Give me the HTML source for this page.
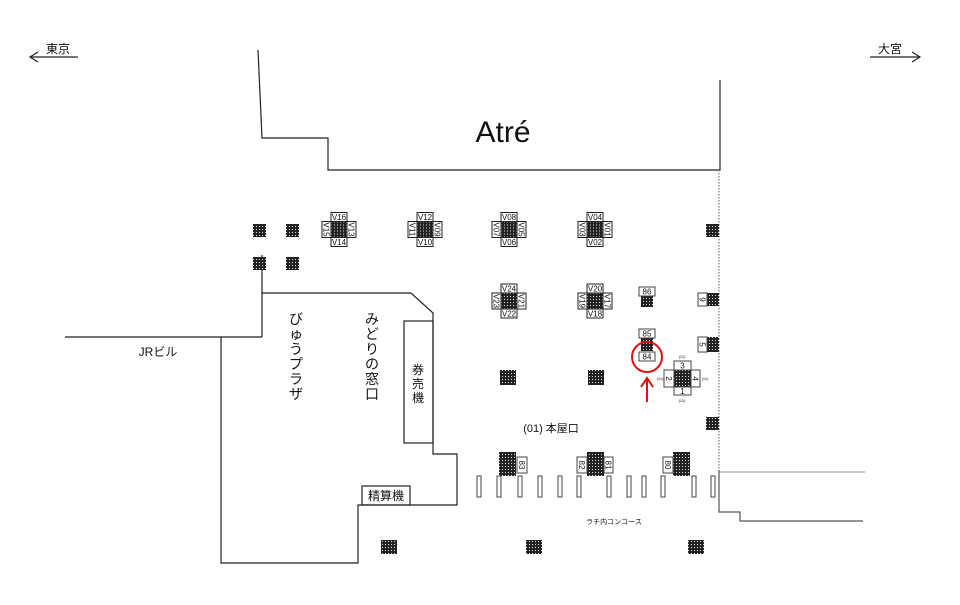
<!DOCTYPE html>
<html><head><meta charset="utf-8"><style>
html,body{margin:0;padding:0;background:#fff;}
svg{display:block;}
text{font-family:"Liberation Sans","Noto Sans CJK JP",sans-serif;fill:#111;}
</style></head><body>
<svg width="960" height="605" viewBox="0 0 960 605" xmlns="http://www.w3.org/2000/svg">
<defs>
<pattern id="h" width="3" height="3" patternUnits="userSpaceOnUse">
<rect width="3" height="3" fill="#222"/><rect x="1" y="1" width="1" height="1" fill="#ddd"/>
</pattern>
</defs>
<g stroke="#222" fill="none" stroke-width="1.2">
<line x1="30" y1="57" x2="78" y2="57"/><polyline points="38,52 30,57 38,62"/>
<line x1="870" y1="57" x2="920" y2="57"/><polyline points="912,52 920,57 912,62"/>
<polyline points="258,50 262,138 328,138 328,170 720,170 720,80"/>
<line x1="719" y1="170" x2="719" y2="470" stroke-dasharray="1.5,1.5" stroke="#777"/>
<line x1="719" y1="472" x2="865" y2="472" stroke="#aaa"/>
<polyline points="719,470 719,512 740,512 740,521 863,521" stroke="#555"/>
<line x1="65" y1="337" x2="262" y2="337"/>
<polyline points="262,255 262,337"/>
<polyline points="221,337 221,563 358,563 358,505 457,505 457,454 433,454 433,313 411,293 262,293"/>
<rect x="404" y="321" width="29" height="122"/>
<rect x="362" y="486" width="48" height="19"/>
</g>
<g font-size="10" text-anchor="middle">
<text x="58" y="53" font-size="12">東京</text>
<text x="890" y="53" font-size="12">大宮</text>
</g>
<text x="503" y="142" font-size="30" text-anchor="middle">Atré</text>
<text x="158" y="356" font-size="12" text-anchor="middle">JRビル</text>
<g font-size="14" text-anchor="middle">
<text x="296" y="324">び</text><text x="296" y="339">ゅ</text><text x="296" y="354">う</text><text x="296" y="369">プ</text><text x="296" y="384">ラ</text><text x="296" y="399">ザ</text>
<text x="372" y="324">み</text><text x="372" y="339">ど</text><text x="372" y="354">り</text><text x="372" y="369">の</text><text x="372" y="384">窓</text><text x="372" y="399">口</text>
</g>
<g font-size="12" text-anchor="middle">
<text x="418" y="374">券</text><text x="418" y="388">売</text><text x="418" y="402">機</text>
<text x="386" y="500">精算機</text>
<text x="551" y="432" font-size="11">(01) 本屋口</text>
<text x="614" y="524" font-size="7">ラチ内コンコース</text>
</g>
<g fill="url(#h)">
<rect x="253" y="224" width="13" height="13"/><rect x="286" y="224" width="13" height="13"/>
<rect x="253" y="257" width="13" height="13"/><rect x="286" y="257" width="13" height="13"/>
<rect x="706" y="224" width="13" height="13"/><rect x="706" y="417" width="13" height="13"/>
<rect x="500" y="370" width="16" height="15"/><rect x="588" y="370" width="16" height="15"/>
<rect x="381" y="540" width="16" height="14"/><rect x="526" y="540" width="16" height="14"/><rect x="688" y="540" width="16" height="14"/>
<rect x="499" y="452" width="17" height="24"/><rect x="587" y="452" width="17" height="24"/><rect x="673" y="452" width="17" height="24"/>
<rect x="641" y="296" width="12" height="11"/><rect x="641" y="338" width="12" height="13"/>
<rect x="707" y="293" width="12" height="13"/><rect x="707" y="337" width="12" height="15"/>
</g>
<g font-size="8" text-anchor="middle">
<g transform="translate(339,229.5)">
<rect x="-8" y="-8" width="16" height="16" fill="url(#h)" stroke="#222"/>
<rect x="-8" y="-17" width="16" height="9" fill="#fff" stroke="#222"/><text y="-9.5">V16</text>
<rect x="-8" y="8" width="16" height="9" fill="#fff" stroke="#222"/><text y="15.5">V14</text>
<rect x="-17" y="-8" width="9" height="16" fill="#fff" stroke="#222"/><text transform="translate(-12.5,0) rotate(90)" y="3">V15</text>
<rect x="8" y="-8" width="9" height="16" fill="#fff" stroke="#222"/><text transform="translate(12.5,0) rotate(90)" y="3">V13</text>
</g>
<g transform="translate(425,229.5)">
<rect x="-8" y="-8" width="16" height="16" fill="url(#h)" stroke="#222"/>
<rect x="-8" y="-17" width="16" height="9" fill="#fff" stroke="#222"/><text y="-9.5">V12</text>
<rect x="-8" y="8" width="16" height="9" fill="#fff" stroke="#222"/><text y="15.5">V10</text>
<rect x="-17" y="-8" width="9" height="16" fill="#fff" stroke="#222"/><text transform="translate(-12.5,0) rotate(90)" y="3">V11</text>
<rect x="8" y="-8" width="9" height="16" fill="#fff" stroke="#222"/><text transform="translate(12.5,0) rotate(90)" y="3">V09</text>
</g>
<g transform="translate(509,229.5)">
<rect x="-8" y="-8" width="16" height="16" fill="url(#h)" stroke="#222"/>
<rect x="-8" y="-17" width="16" height="9" fill="#fff" stroke="#222"/><text y="-9.5">V08</text>
<rect x="-8" y="8" width="16" height="9" fill="#fff" stroke="#222"/><text y="15.5">V06</text>
<rect x="-17" y="-8" width="9" height="16" fill="#fff" stroke="#222"/><text transform="translate(-12.5,0) rotate(90)" y="3">V07</text>
<rect x="8" y="-8" width="9" height="16" fill="#fff" stroke="#222"/><text transform="translate(12.5,0) rotate(90)" y="3">V05</text>
</g>
<g transform="translate(595,229.5)">
<rect x="-8" y="-8" width="16" height="16" fill="url(#h)" stroke="#222"/>
<rect x="-8" y="-17" width="16" height="9" fill="#fff" stroke="#222"/><text y="-9.5">V04</text>
<rect x="-8" y="8" width="16" height="9" fill="#fff" stroke="#222"/><text y="15.5">V02</text>
<rect x="-17" y="-8" width="9" height="16" fill="#fff" stroke="#222"/><text transform="translate(-12.5,0) rotate(90)" y="3">V03</text>
<rect x="8" y="-8" width="9" height="16" fill="#fff" stroke="#222"/><text transform="translate(12.5,0) rotate(90)" y="3">V01</text>
</g>
<g transform="translate(509,301)">
<rect x="-8" y="-8" width="16" height="16" fill="url(#h)" stroke="#222"/>
<rect x="-8" y="-17" width="16" height="9" fill="#fff" stroke="#222"/><text y="-9.5">V24</text>
<rect x="-8" y="8" width="16" height="9" fill="#fff" stroke="#222"/><text y="15.5">V22</text>
<rect x="-17" y="-8" width="9" height="16" fill="#fff" stroke="#222"/><text transform="translate(-12.5,0) rotate(90)" y="3">V23</text>
<rect x="8" y="-8" width="9" height="16" fill="#fff" stroke="#222"/><text transform="translate(12.5,0) rotate(90)" y="3">V21</text>
</g>
<g transform="translate(595,301)">
<rect x="-8" y="-8" width="16" height="16" fill="url(#h)" stroke="#222"/>
<rect x="-8" y="-17" width="16" height="9" fill="#fff" stroke="#222"/><text y="-9.5">V20</text>
<rect x="-8" y="8" width="16" height="9" fill="#fff" stroke="#222"/><text y="15.5">V18</text>
<rect x="-17" y="-8" width="9" height="16" fill="#fff" stroke="#222"/><text transform="translate(-12.5,0) rotate(90)" y="3">V19</text>
<rect x="8" y="-8" width="9" height="16" fill="#fff" stroke="#222"/><text transform="translate(12.5,0) rotate(90)" y="3">V17</text>
</g>
<g fill="#fff" stroke="#444">
<rect x="639" y="287" width="16" height="9"/><rect x="639" y="329" width="16" height="9"/><rect x="639" y="352" width="16" height="9"/>
<rect x="698" y="293" width="9" height="13"/><rect x="698" y="337" width="9" height="15"/>
<rect x="517" y="457" width="10" height="16"/><rect x="577" y="457" width="10" height="16"/><rect x="604" y="457" width="9" height="16"/><rect x="663" y="457" width="10" height="16"/>
</g>
<text x="647" y="294.5">86</text><text x="647" y="336.5">85</text><text x="647" y="359.5">84</text>
<text transform="translate(702.5,299.5) rotate(90)" y="3">9</text>
<text transform="translate(702.5,344.5) rotate(90)" y="3">5</text>
<text transform="translate(522,465) rotate(90)" y="3">83</text>
<text transform="translate(582,465) rotate(90)" y="3">82</text>
<text transform="translate(608.5,465) rotate(90)" y="3">81</text>
<text transform="translate(668,465) rotate(90)" y="3">80</text>
<rect x="674" y="370" width="17" height="17" fill="url(#h)" stroke="#444"/>
<rect x="674" y="361" width="17" height="9" fill="#fff" stroke="#444"/><text x="682.5" y="368.5">3</text>
<rect x="674" y="387" width="17" height="8" fill="#fff" stroke="#444"/><text x="682.5" y="394">1</text>
<rect x="664" y="370" width="10" height="17" fill="#fff" stroke="#444"/><text transform="translate(669,378.5) rotate(90)" y="3">2</text>
<rect x="691" y="370" width="9" height="17" fill="#fff" stroke="#444"/><text transform="translate(695.5,378.5) rotate(90)" y="3">4</text>
<g font-size="4" fill="#666"><text x="682" y="358">(11)</text><text x="682" y="402">(11)</text><text x="660" y="380">(11)</text><text x="705" y="380">(11)</text></g>
</g>
<g fill="#fff" stroke="#444">
<rect x="477" y="476" width="4" height="21"/><rect x="497" y="476" width="4" height="21"/><rect x="518" y="476" width="4" height="21"/><rect x="538" y="476" width="4" height="21"/><rect x="558" y="476" width="4" height="21"/><rect x="577" y="476" width="4" height="21"/><rect x="607" y="476" width="4" height="21"/><rect x="627" y="476" width="4" height="21"/><rect x="642" y="476" width="4" height="21"/><rect x="661" y="476" width="4" height="21"/><rect x="692" y="476" width="4" height="21"/><rect x="711" y="476" width="4" height="21"/>
</g>
<circle cx="647" cy="357" r="15" fill="none" stroke="#e01010" stroke-width="2"/>
<line x1="647" y1="402" x2="647" y2="380" stroke="#e01010" stroke-width="2"/>
<polyline points="641,387 647,378 653,387" fill="none" stroke="#e01010" stroke-width="2"/>
</svg>
</body></html>
